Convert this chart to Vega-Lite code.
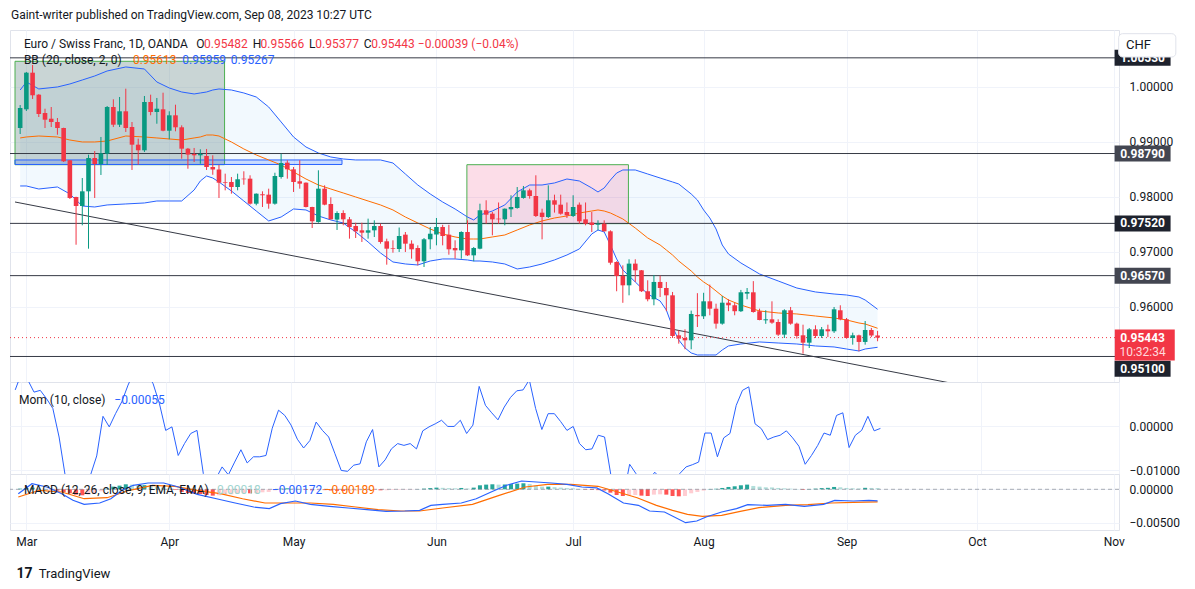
{
  "$schema": "https://vega.github.io/schema/vega-lite/v6.json",
  "background": "#ffffff",
  "padding": {"left": 9, "top": 8, "right": 0, "bottom": 0},
  "title": {"text": "Gaint-writer published on TradingView.com, Sep 08, 2023 10:27 UTC", "anchor": "start", "frame": "group", "fontSize": 12, "fontWeight": "normal", "font": "Roboto", "color": "#131722", "offset": 8, "dx": 1},
  "spacing": 0,
  "bounds": "flush",
  "config": {
    "font": "Roboto",
    "view": {"stroke": "#e0e3eb"},
    "axis": {"labelFont": "Roboto", "labelFontSize": 12, "labelColor": "#131722", "gridColor": "#f0f3fa", "ticks": false, "domain": false},
    "text": {"font": "Roboto", "fontSize": 12}
  },
  "datasets": {
    "ohlc": [
      {"i":-1,"o":0.99254,"h":0.99672,"l":0.99145,"c":0.99618},
      {"i":0,"o":0.99594,"h":1.00273,"l":0.99563,"c":1.00260},
      {"i":1,"o":1.00260,"h":1.00400,"l":0.99782,"c":0.99849},
      {"i":2,"o":0.99860,"h":0.99870,"l":0.99454,"c":0.99509},
      {"i":3,"o":0.99527,"h":0.99605,"l":0.99254,"c":0.99405},
      {"i":4,"o":0.99423,"h":0.99636,"l":0.99272,"c":0.99363},
      {"i":5,"o":0.99363,"h":0.99436,"l":0.99132,"c":0.99254},
      {"i":6,"o":0.99254,"h":0.99260,"l":0.98636,"c":0.98649},
      {"i":7,"o":0.98667,"h":0.98672,"l":0.97963,"c":0.97982},
      {"i":8,"o":0.98000,"h":0.98005,"l":0.97132,"c":0.97836},
      {"i":9,"o":0.97836,"h":0.98345,"l":0.97485,"c":0.98103},
      {"i":10,"o":0.98103,"h":0.98769,"l":0.97060,"c":0.98709},
      {"i":11,"o":0.98709,"h":0.98836,"l":0.97982,"c":0.98600},
      {"i":12,"o":0.98600,"h":0.99091,"l":0.98400,"c":0.98794},
      {"i":13,"o":0.98787,"h":0.99654,"l":0.98582,"c":0.99636},
      {"i":14,"o":0.99636,"h":0.99776,"l":0.99272,"c":0.99314},
      {"i":15,"o":0.99314,"h":0.99818,"l":0.99272,"c":0.99558},
      {"i":16,"o":0.99558,"h":0.99969,"l":0.99182,"c":0.99254},
      {"i":17,"o":0.99272,"h":0.99363,"l":0.98491,"c":0.98951},
      {"i":18,"o":0.98951,"h":0.99060,"l":0.98587,"c":0.98849},
      {"i":19,"o":0.98849,"h":0.99836,"l":0.98818,"c":0.99727},
      {"i":20,"o":0.99727,"h":0.99860,"l":0.99485,"c":0.99545},
      {"i":21,"o":0.99545,"h":0.99800,"l":0.99332,"c":0.99605},
      {"i":22,"o":0.99594,"h":0.99896,"l":0.99194,"c":0.99205},
      {"i":23,"o":0.99205,"h":0.99558,"l":0.99049,"c":0.99485},
      {"i":24,"o":0.99485,"h":0.99678,"l":0.99194,"c":0.99267},
      {"i":25,"o":0.99267,"h":0.99303,"l":0.98696,"c":0.98878},
      {"i":26,"o":0.98878,"h":0.98891,"l":0.98514,"c":0.98771},
      {"i":27,"o":0.98782,"h":0.98891,"l":0.98636,"c":0.98758},
      {"i":28,"o":0.98758,"h":0.98867,"l":0.98605,"c":0.98782},
      {"i":29,"o":0.98745,"h":0.98873,"l":0.98491,"c":0.98545},
      {"i":30,"o":0.98545,"h":0.98758,"l":0.98404,"c":0.98500},
      {"i":31,"o":0.98500,"h":0.98586,"l":0.97982,"c":0.98260},
      {"i":32,"o":0.98272,"h":0.98424,"l":0.98121,"c":0.98260},
      {"i":33,"o":0.98272,"h":0.98363,"l":0.98060,"c":0.98181},
      {"i":34,"o":0.98181,"h":0.98424,"l":0.98121,"c":0.98322},
      {"i":35,"o":0.98333,"h":0.98467,"l":0.98223,"c":0.98322},
      {"i":36,"o":0.98333,"h":0.98394,"l":0.97860,"c":0.97878},
      {"i":37,"o":0.97878,"h":0.98065,"l":0.97849,"c":0.98060},
      {"i":38,"o":0.98049,"h":0.98103,"l":0.97818,"c":0.98031},
      {"i":39,"o":0.98042,"h":0.98151,"l":0.97787,"c":0.97878},
      {"i":40,"o":0.97878,"h":0.98441,"l":0.97860,"c":0.98381},
      {"i":41,"o":0.98363,"h":0.98787,"l":0.98333,"c":0.98618},
      {"i":42,"o":0.98624,"h":0.98667,"l":0.98333,"c":0.98503},
      {"i":43,"o":0.98503,"h":0.98545,"l":0.98091,"c":0.98272},
      {"i":44,"o":0.98285,"h":0.98667,"l":0.98151,"c":0.98242},
      {"i":45,"o":0.98260,"h":0.98265,"l":0.97810,"c":0.97818},
      {"i":46,"o":0.97818,"h":0.97822,"l":0.97436,"c":0.97558},
      {"i":47,"o":0.97545,"h":0.98485,"l":0.97532,"c":0.98151},
      {"i":48,"o":0.98151,"h":0.98212,"l":0.97849,"c":0.97860},
      {"i":49,"o":0.97872,"h":0.97994,"l":0.97590,"c":0.97594},
      {"i":50,"o":0.97589,"h":0.97740,"l":0.97400,"c":0.97709},
      {"i":51,"o":0.97709,"h":0.97758,"l":0.97485,"c":0.97594},
      {"i":52,"o":0.97594,"h":0.97636,"l":0.97242,"c":0.97454},
      {"i":53,"o":0.97472,"h":0.97532,"l":0.97254,"c":0.97376},
      {"i":54,"o":0.97394,"h":0.97532,"l":0.97182,"c":0.97351},
      {"i":55,"o":0.97351,"h":0.97606,"l":0.97242,"c":0.97394},
      {"i":56,"o":0.97394,"h":0.97576,"l":0.97272,"c":0.97472},
      {"i":57,"o":0.97472,"h":0.97514,"l":0.97151,"c":0.97182},
      {"i":58,"o":0.97194,"h":0.97242,"l":0.96769,"c":0.97060},
      {"i":59,"o":0.97072,"h":0.97212,"l":0.96987,"c":0.97060},
      {"i":60,"o":0.97054,"h":0.97445,"l":0.97000,"c":0.97291},
      {"i":61,"o":0.97315,"h":0.97363,"l":0.97000,"c":0.97151},
      {"i":62,"o":0.97151,"h":0.97212,"l":0.96878,"c":0.97049},
      {"i":63,"o":0.97072,"h":0.97121,"l":0.96757,"c":0.96831},
      {"i":64,"o":0.96831,"h":0.97254,"l":0.96727,"c":0.97231},
      {"i":65,"o":0.97231,"h":0.97454,"l":0.97049,"c":0.97332},
      {"i":66,"o":0.97318,"h":0.97618,"l":0.97121,"c":0.97454},
      {"i":67,"o":0.97454,"h":0.97494,"l":0.97121,"c":0.97291},
      {"i":68,"o":0.97315,"h":0.97494,"l":0.96951,"c":0.97049},
      {"i":69,"o":0.97072,"h":0.97212,"l":0.96878,"c":0.97030},
      {"i":70,"o":0.97030,"h":0.97376,"l":0.96878,"c":0.97363},
      {"i":71,"o":0.97363,"h":0.97576,"l":0.96927,"c":0.96939},
      {"i":72,"o":0.96939,"h":0.97091,"l":0.96831,"c":0.97072},
      {"i":73,"o":0.97060,"h":0.97878,"l":0.97049,"c":0.97758},
      {"i":74,"o":0.97758,"h":0.97940,"l":0.97514,"c":0.97678},
      {"i":75,"o":0.97696,"h":0.97727,"l":0.97303,"c":0.97594},
      {"i":76,"o":0.97606,"h":0.97900,"l":0.97514,"c":0.97594},
      {"i":77,"o":0.97594,"h":0.97792,"l":0.97485,"c":0.97787},
      {"i":78,"o":0.97776,"h":0.98031,"l":0.97636,"c":0.97818},
      {"i":79,"o":0.97800,"h":0.98181,"l":0.97787,"c":0.98000},
      {"i":80,"o":0.97982,"h":0.98200,"l":0.97969,"c":0.98121},
      {"i":81,"o":0.98121,"h":0.98151,"l":0.97969,"c":0.98018},
      {"i":82,"o":0.98018,"h":0.98394,"l":0.97636,"c":0.97654},
      {"i":83,"o":0.97715,"h":0.97787,"l":0.97230,"c":0.97636},
      {"i":84,"o":0.97636,"h":0.98212,"l":0.97618,"c":0.97940},
      {"i":85,"o":0.97940,"h":0.98042,"l":0.97716,"c":0.97860},
      {"i":86,"o":0.97860,"h":0.98042,"l":0.97678,"c":0.97696},
      {"i":87,"o":0.97727,"h":0.97900,"l":0.97618,"c":0.97667},
      {"i":88,"o":0.97654,"h":0.98031,"l":0.97636,"c":0.97818},
      {"i":89,"o":0.97860,"h":0.97900,"l":0.97514,"c":0.97558},
      {"i":90,"o":0.97594,"h":0.97900,"l":0.97485,"c":0.97514},
      {"i":91,"o":0.97536,"h":0.97727,"l":0.97363,"c":0.97491},
      {"i":92,"o":0.97496,"h":0.97576,"l":0.97394,"c":0.97514},
      {"i":93,"o":0.97514,"h":0.97576,"l":0.97370,"c":0.97376},
      {"i":94,"o":0.97376,"h":0.97394,"l":0.96769,"c":0.96805},
      {"i":95,"o":0.96818,"h":0.96831,"l":0.96286,"c":0.96563},
      {"i":96,"o":0.96563,"h":0.96757,"l":0.96076,"c":0.96394},
      {"i":97,"o":0.96394,"h":0.96867,"l":0.96212,"c":0.96788},
      {"i":98,"o":0.96788,"h":0.96867,"l":0.96455,"c":0.96667},
      {"i":99,"o":0.96667,"h":0.96672,"l":0.96273,"c":0.96286},
      {"i":100,"o":0.96286,"h":0.96485,"l":0.96103,"c":0.96140},
      {"i":101,"o":0.96140,"h":0.96582,"l":0.96031,"c":0.96455},
      {"i":102,"o":0.96455,"h":0.96570,"l":0.96182,"c":0.96345},
      {"i":103,"o":0.96345,"h":0.96455,"l":0.95924,"c":0.96212},
      {"i":104,"o":0.96212,"h":0.96273,"l":0.95436,"c":0.95473},
      {"i":105,"o":0.95485,"h":0.95576,"l":0.95333,"c":0.95424},
      {"i":106,"o":0.95436,"h":0.95594,"l":0.95231,"c":0.95394},
      {"i":107,"o":0.95394,"h":0.95934,"l":0.95231,"c":0.95873},
      {"i":108,"o":0.95855,"h":0.96251,"l":0.95636,"c":0.95831},
      {"i":109,"o":0.95831,"h":0.96258,"l":0.95782,"c":0.96103},
      {"i":110,"o":0.96103,"h":0.96406,"l":0.95849,"c":0.95969},
      {"i":111,"o":0.95969,"h":0.96060,"l":0.95606,"c":0.95697},
      {"i":112,"o":0.95697,"h":0.96200,"l":0.95678,"c":0.96078},
      {"i":113,"o":0.96078,"h":0.96140,"l":0.95924,"c":0.96031},
      {"i":114,"o":0.96031,"h":0.96078,"l":0.95849,"c":0.95923},
      {"i":115,"o":0.95923,"h":0.96310,"l":0.95909,"c":0.96267},
      {"i":116,"o":0.96242,"h":0.96345,"l":0.96140,"c":0.96273},
      {"i":117,"o":0.96267,"h":0.96470,"l":0.95897,"c":0.95909},
      {"i":118,"o":0.95923,"h":0.95969,"l":0.95758,"c":0.95763},
      {"i":119,"o":0.95758,"h":0.95940,"l":0.95694,"c":0.95776},
      {"i":120,"o":0.95776,"h":0.96103,"l":0.95694,"c":0.95715},
      {"i":121,"o":0.95727,"h":0.95776,"l":0.95473,"c":0.95497},
      {"i":122,"o":0.95497,"h":0.95958,"l":0.95436,"c":0.95940},
      {"i":123,"o":0.95940,"h":0.96000,"l":0.95678,"c":0.95697},
      {"i":124,"o":0.95697,"h":0.95715,"l":0.95424,"c":0.95473},
      {"i":125,"o":0.95485,"h":0.95678,"l":0.95151,"c":0.95351},
      {"i":126,"o":0.95351,"h":0.95618,"l":0.95254,"c":0.95594},
      {"i":127,"o":0.95594,"h":0.95667,"l":0.95436,"c":0.95473},
      {"i":128,"o":0.95473,"h":0.95636,"l":0.95436,"c":0.95594},
      {"i":129,"o":0.95594,"h":0.95678,"l":0.95455,"c":0.95558},
      {"i":130,"o":0.95558,"h":0.96000,"l":0.95528,"c":0.95958},
      {"i":131,"o":0.95940,"h":0.96031,"l":0.95758,"c":0.95776},
      {"i":132,"o":0.95776,"h":0.95800,"l":0.95424,"c":0.95436},
      {"i":133,"o":0.95436,"h":0.95533,"l":0.95315,"c":0.95485},
      {"i":134,"o":0.95485,"h":0.95497,"l":0.95194,"c":0.95364},
      {"i":135,"o":0.95364,"h":0.95745,"l":0.95315,"c":0.95582},
      {"i":136,"o":0.95582,"h":0.95618,"l":0.95455,"c":0.95482},
      {"i":137,"o":0.95482,"h":0.95566,"l":0.95377,"c":0.95443}
    ],
    "bb": [
      {"i":-1,"upper":0.99945,"basis":0.99073,"lower":0.98200},
      {"i":0,"upper":1.00091,"basis":0.99091,"lower":0.98200},
      {"i":2,"upper":0.99964,"basis":0.99109,"lower":0.98145},
      {"i":5,"upper":1.00000,"basis":0.99091,"lower":0.98182},
      {"i":7,"upper":1.00055,"basis":0.99036,"lower":0.98055},
      {"i":9,"upper":1.00127,"basis":0.99000,"lower":0.97836},
      {"i":11,"upper":1.00200,"basis":0.99000,"lower":0.97818},
      {"i":13,"upper":1.00291,"basis":0.99018,"lower":0.97855},
      {"i":16,"upper":1.00364,"basis":0.99109,"lower":0.97873},
      {"i":19,"upper":1.00327,"basis":0.99091,"lower":0.97891},
      {"i":21,"upper":1.00091,"basis":0.99073,"lower":0.97927},
      {"i":23,"upper":0.99982,"basis":0.99055,"lower":0.97927},
      {"i":25,"upper":0.99909,"basis":0.99036,"lower":0.97927},
      {"i":27,"upper":0.99873,"basis":0.99073,"lower":0.98127},
      {"i":28,"upper":0.99891,"basis":0.99091,"lower":0.98291},
      {"i":29,"upper":0.99909,"basis":0.99127,"lower":0.98382},
      {"i":30,"upper":0.99945,"basis":0.99127,"lower":0.98345},
      {"i":31,"upper":0.99964,"basis":0.99109,"lower":0.98273},
      {"i":33,"upper":0.99945,"basis":0.99000,"lower":0.98109},
      {"i":35,"upper":0.99891,"basis":0.98873,"lower":0.97927},
      {"i":37,"upper":0.99818,"basis":0.98764,"lower":0.97745},
      {"i":39,"upper":0.99636,"basis":0.98673,"lower":0.97564},
      {"i":41,"upper":0.99364,"basis":0.98582,"lower":0.97636},
      {"i":43,"upper":0.99091,"basis":0.98455,"lower":0.97782},
      {"i":45,"upper":0.98909,"basis":0.98327,"lower":0.97764},
      {"i":47,"upper":0.98800,"basis":0.98218,"lower":0.97655},
      {"i":49,"upper":0.98727,"basis":0.98145,"lower":0.97582},
      {"i":51,"upper":0.98691,"basis":0.98073,"lower":0.97527},
      {"i":53,"upper":0.98673,"basis":0.98000,"lower":0.97364},
      {"i":55,"upper":0.98673,"basis":0.97927,"lower":0.97182},
      {"i":57,"upper":0.98673,"basis":0.97855,"lower":0.96982},
      {"i":59,"upper":0.98618,"basis":0.97764,"lower":0.96818},
      {"i":61,"upper":0.98418,"basis":0.97636,"lower":0.96782},
      {"i":63,"upper":0.98218,"basis":0.97527,"lower":0.96764},
      {"i":65,"upper":0.98055,"basis":0.97418,"lower":0.96836},
      {"i":67,"upper":0.97909,"basis":0.97327,"lower":0.96873},
      {"i":69,"upper":0.97782,"basis":0.97273,"lower":0.96873},
      {"i":71,"upper":0.97636,"basis":0.97236,"lower":0.96855},
      {"i":72,"upper":0.97582,"basis":0.97236,"lower":0.96836},
      {"i":73,"upper":0.97673,"basis":0.97236,"lower":0.96836},
      {"i":75,"upper":0.97745,"basis":0.97273,"lower":0.96818},
      {"i":77,"upper":0.97855,"basis":0.97309,"lower":0.96782},
      {"i":79,"upper":0.98091,"basis":0.97400,"lower":0.96691},
      {"i":81,"upper":0.98218,"basis":0.97491,"lower":0.96727},
      {"i":83,"upper":0.98218,"basis":0.97564,"lower":0.96782},
      {"i":85,"upper":0.98255,"basis":0.97618,"lower":0.96855},
      {"i":87,"upper":0.98327,"basis":0.97655,"lower":0.96945},
      {"i":89,"upper":0.98291,"basis":0.97709,"lower":0.97055},
      {"i":91,"upper":0.98164,"basis":0.97745,"lower":0.97327},
      {"i":92,"upper":0.98091,"basis":0.97764,"lower":0.97400},
      {"i":93,"upper":0.98164,"basis":0.97745,"lower":0.97364},
      {"i":94,"upper":0.98309,"basis":0.97709,"lower":0.97127},
      {"i":95,"upper":0.98436,"basis":0.97655,"lower":0.96873},
      {"i":96,"upper":0.98491,"basis":0.97600,"lower":0.96673},
      {"i":98,"upper":0.98491,"basis":0.97436,"lower":0.96455},
      {"i":100,"upper":0.98418,"basis":0.97255,"lower":0.96236},
      {"i":102,"upper":0.98345,"basis":0.97127,"lower":0.96109},
      {"i":103,"upper":0.98309,"basis":0.97036,"lower":0.95945},
      {"i":104,"upper":0.98273,"basis":0.96945,"lower":0.95636},
      {"i":105,"upper":0.98236,"basis":0.96836,"lower":0.95400},
      {"i":106,"upper":0.98145,"basis":0.96745,"lower":0.95255},
      {"i":107,"upper":0.98055,"basis":0.96655,"lower":0.95164},
      {"i":108,"upper":0.97945,"basis":0.96545,"lower":0.95127},
      {"i":109,"upper":0.97764,"basis":0.96455,"lower":0.95127},
      {"i":110,"upper":0.97618,"basis":0.96382,"lower":0.95127},
      {"i":111,"upper":0.97418,"basis":0.96291,"lower":0.95127},
      {"i":112,"upper":0.97127,"basis":0.96200,"lower":0.95218},
      {"i":113,"upper":0.96964,"basis":0.96127,"lower":0.95291},
      {"i":115,"upper":0.96800,"basis":0.96036,"lower":0.95327},
      {"i":118,"upper":0.96600,"basis":0.95927,"lower":0.95364},
      {"i":121,"upper":0.96473,"basis":0.95891,"lower":0.95345},
      {"i":124,"upper":0.96345,"basis":0.95873,"lower":0.95327},
      {"i":127,"upper":0.96273,"basis":0.95836,"lower":0.95291},
      {"i":130,"upper":0.96236,"basis":0.95800,"lower":0.95273},
      {"i":132,"upper":0.96218,"basis":0.95764,"lower":0.95236},
      {"i":134,"upper":0.96182,"basis":0.95709,"lower":0.95200},
      {"i":135,"upper":0.96127,"basis":0.95691,"lower":0.95236},
      {"i":137,"upper":0.95959,"basis":0.95613,"lower":0.95267}
    ],
    "levels": [
      {"p":1.0053,"label":"1.00530"},
      {"p":0.9879,"label":"0.98790"},
      {"p":0.9752,"label":"0.97520"},
      {"p":0.9657,"label":"0.96570"},
      {"p":0.951,"label":"0.95100"}
    ],
    "mom": [
      {"i":-1,"v":0.0082},{"i":0,"v":0.0120},{"i":1,"v":0.0105},{"i":2,"v":0.0077},{"i":3,"v":0.0081},{"i":4,"v":0.0062},{"i":5,"v":0.0040},{"i":6,"v":-0.0025},{"i":7,"v":-0.0115},{"i":8,"v":-0.0160},
      {"i":9,"v":-0.0175},{"i":10,"v":-0.0150},{"i":11,"v":-0.0112},{"i":12,"v":-0.0068},{"i":13,"v":0.0022},{"i":14,"v":-0.0002},{"i":15,"v":0.0028},{"i":16,"v":0.0055},{"i":17,"v":0.0093},{"i":18,"v":0.0125},
      {"i":19,"v":0.0140},{"i":20,"v":0.0120},{"i":21,"v":0.0096},{"i":22,"v":0.0051},{"i":23,"v":-0.0010},{"i":24,"v":-0.0002},{"i":25,"v":-0.0067},{"i":26,"v":-0.0040},{"i":27,"v":-0.0017},{"i":28,"v":-0.0010},
      {"i":29,"v":-0.0108},{"i":30,"v":-0.0130},{"i":31,"v":-0.0120},{"i":32,"v":-0.0093},{"i":33,"v":-0.0111},{"i":34,"v":-0.0082},{"i":35,"v":-0.0054},{"i":36,"v":-0.0084},{"i":37,"v":-0.0070},{"i":38,"v":-0.0070},
      {"i":39,"v":-0.0067},{"i":40,"v":-0.0005},{"i":41,"v":0.0036},{"i":42,"v":0.0024},{"i":43,"v":0.0002},{"i":44,"v":-0.0030},{"i":45,"v":-0.0050},{"i":46,"v":-0.0033},{"i":47,"v":0.0009},{"i":48,"v":-0.0010},
      {"i":49,"v":-0.0025},{"i":50,"v":-0.0063},{"i":51,"v":-0.0101},{"i":52,"v":-0.0103},{"i":53,"v":-0.0089},{"i":54,"v":-0.0086},{"i":55,"v":-0.0036},{"i":56,"v":-0.0008},{"i":57,"v":-0.0093},{"i":58,"v":-0.0077},
      {"i":59,"v":-0.0052},{"i":60,"v":-0.0040},{"i":61,"v":-0.0044},{"i":62,"v":-0.0040},{"i":63,"v":-0.0052},{"i":64,"v":-0.0011},{"i":65,"v":-0.0002},{"i":66,"v":0.0005},{"i":67,"v":0.0013},{"i":68,"v":-0.0001},
      {"i":69,"v":-0.0001},{"i":70,"v":0.0013},{"i":71,"v":-0.0017},{"i":72,"v":0.0002},{"i":73,"v":0.0090},{"i":74,"v":0.0047},{"i":75,"v":0.0030},{"i":76,"v":0.0014},{"i":77,"v":0.0043},{"i":78,"v":0.0065},
      {"i":79,"v":0.0080},{"i":80,"v":0.0082},{"i":81,"v":0.0105},{"i":82,"v":0.0040},{"i":83,"v":-0.0008},{"i":84,"v":0.0028},{"i":85,"v":0.0028},{"i":86,"v":0.0010},{"i":87,"v":-0.0010},{"i":88,"v":-0.0001},
      {"i":89,"v":-0.0040},{"i":90,"v":-0.0054},{"i":91,"v":-0.0052},{"i":92,"v":-0.0021},{"i":93,"v":-0.0025},{"i":94,"v":-0.0111},{"i":95,"v":-0.0150},{"i":96,"v":-0.0160},{"i":97,"v":-0.0087},{"i":98,"v":-0.0108},
      {"i":99,"v":-0.0125},{"i":100,"v":-0.0125},{"i":101,"v":-0.0105},{"i":102,"v":-0.0120},{"i":103,"v":-0.0130},{"i":104,"v":-0.0125},{"i":105,"v":-0.0108},{"i":106,"v":-0.0093},{"i":107,"v":-0.0088},{"i":108,"v":-0.0082},
      {"i":109,"v":-0.0016},{"i":110,"v":-0.0016},{"i":111,"v":-0.0070},{"i":112,"v":-0.0027},{"i":113,"v":-0.0017},{"i":114,"v":0.0047},{"i":115,"v":0.0081},{"i":116,"v":0.0089},{"i":117,"v":0.0005},{"i":118,"v":-0.0006},
      {"i":119,"v":-0.0031},{"i":120,"v":-0.0025},{"i":121,"v":-0.0021},{"i":122,"v":-0.0011},{"i":123,"v":-0.0027},{"i":124,"v":-0.0046},{"i":125,"v":-0.0087},{"i":126,"v":-0.0067},{"i":127,"v":-0.0044},{"i":128,"v":-0.0016},
      {"i":129,"v":-0.0021},{"i":130,"v":0.0024},{"i":131,"v":0.0030},{"i":132,"v":-0.0049},{"i":133,"v":-0.0021},{"i":134,"v":-0.0010},{"i":135,"v":0.0022},{"i":136,"v":-0.0011},{"i":137,"v":-0.00055}
    ],
    "macd": [
      {"i":-1.3,"v":-0.00066},{"i":0.9,"v":0.00084},{"i":3.3,"v":0.00034},{"i":5.7,"v":-0.00066},{"i":7.5,"v":-0.00165},{"i":9.3,"v":-0.00225},{"i":11.8,"v":-0.00205},{"i":13.6,"v":-0.00141},{"i":15.4,"v":-0.00015},{"i":17.2,"v":0.0006},
      {"i":19.6,"v":0.00094},{"i":22.1,"v":0.00094},{"i":24.5,"v":0.00034},{"i":27.5,"v":-0.00075},{"i":30.6,"v":-0.00141},{"i":33.6,"v":-0.00205},{"i":36.6,"v":-0.00265},{"i":39.1,"v":-0.0029},{"i":40.9,"v":-0.00215},{"i":43.3,"v":-0.00175},
      {"i":45.7,"v":-0.00225},{"i":48.8,"v":-0.00255},{"i":51.8,"v":-0.0028},{"i":54.8,"v":-0.00305},{"i":57.9,"v":-0.0033},{"i":60.9,"v":-0.00325},{"i":63.3,"v":-0.00315},{"i":65.1,"v":-0.0024},{"i":67,"v":-0.00225},{"i":70,"v":-0.00205},
      {"i":72.4,"v":-0.00141},{"i":74.8,"v":-0.0004},{"i":77.3,"v":0.0006},{"i":79.7,"v":0.00124},{"i":82.1,"v":0.00109},{"i":84.5,"v":0.00094},{"i":87,"v":0.00075},{"i":89.4,"v":0.00034},{"i":91.8,"v":0.0002},{"i":93.6,"v":-0.00066},
      {"i":96.1,"v":-0.00205},{"i":98.5,"v":-0.0024},{"i":100.3,"v":-0.00325},{"i":102.7,"v":-0.0034},{"i":106.1,"v":-0.005},{"i":107.9,"v":-0.00475},{"i":109.4,"v":-0.00415},{"i":111.9,"v":-0.0034},{"i":114.3,"v":-0.0029},{"i":116.1,"v":-0.0023},
      {"i":119.2,"v":-0.0024},{"i":122.2,"v":-0.00225},{"i":125.2,"v":-0.00255},{"i":128.3,"v":-0.00225},{"i":130.1,"v":-0.00165},{"i":133.1,"v":-0.00175},{"i":135.6,"v":-0.00165},{"i":137,"v":-0.00172}
    ],
    "signal": [
      {"i":-1.3,"v":-0.00115},{"i":2.1,"v":-0.00015},{"i":5.7,"v":-0.0004},{"i":9.3,"v":-0.00141},{"i":13,"v":-0.00126},{"i":16.6,"v":-0.00015},{"i":20.3,"v":0.0006},{"i":23.9,"v":0.00045},{"i":27.5,"v":-0.00015},{"i":31.2,"v":-0.00066},
      {"i":34.8,"v":-0.00141},{"i":38.4,"v":-0.00205},{"i":42.1,"v":-0.00205},{"i":45.7,"v":-0.00205},{"i":49.4,"v":-0.00225},{"i":53,"v":-0.00265},{"i":56.6,"v":-0.00305},{"i":60.3,"v":-0.00325},{"i":63.3,"v":-0.00325},{"i":67,"v":-0.0028},
      {"i":71.8,"v":-0.00225},{"i":76.1,"v":-0.0009},{"i":80.3,"v":0.00034},{"i":83.9,"v":0.00075},{"i":87.6,"v":0.00075},{"i":92,"v":0.00045},{"i":95.2,"v":-0.0004},{"i":98.3,"v":-0.00126},{"i":101.4,"v":-0.0024},{"i":104,"v":-0.00315},
      {"i":106.4,"v":-0.00375},{"i":108.8,"v":-0.00405},{"i":111.9,"v":-0.0039},{"i":114.9,"v":-0.0033},{"i":117.9,"v":-0.00275},{"i":122.2,"v":-0.0024},{"i":125.8,"v":-0.0023},{"i":129.5,"v":-0.00205},{"i":133.1,"v":-0.00195},{"i":137,"v":-0.00189}
    ],
    "hist": [
      {"i":-1,"v":0.0001},{"i":0,"v":0.0002},{"i":1,"v":0.00025},{"i":2,"v":0.00018},{"i":3,"v":0.00005},{"i":4,"v":-0.00005},{"i":5,"v":-0.0002},{"i":6,"v":-0.0004},{"i":7,"v":-0.0006},{"i":8,"v":-0.0008},
      {"i":9,"v":-0.0009},{"i":10,"v":-0.0008},{"i":11,"v":-0.0006},{"i":12,"v":-0.0003},{"i":13,"v":0.0001},{"i":14,"v":0.0004},{"i":15,"v":0.00055},{"i":16,"v":0.00075},{"i":17,"v":0.0007},{"i":18,"v":0.0006},
      {"i":19,"v":0.00062},{"i":20,"v":0.0005},{"i":21,"v":0.0004},{"i":22,"v":0.00028},{"i":23,"v":0.00012},{"i":24,"v":-0.0001},{"i":25,"v":-0.0004},{"i":26,"v":-0.00055},{"i":27,"v":-0.00065},{"i":28,"v":-0.0007},
      {"i":29,"v":-0.00085},{"i":30,"v":-0.00095},{"i":31,"v":-0.0009},{"i":32,"v":-0.0008},{"i":33,"v":-0.00075},{"i":34,"v":-0.00065},{"i":35,"v":-0.00055},{"i":36,"v":-0.0006},{"i":37,"v":-0.00055},{"i":38,"v":-0.00045},
      {"i":39,"v":-0.0004},{"i":40,"v":-0.00015},{"i":41,"v":0.0001},{"i":42,"v":0.00015},{"i":43,"v":0.0001},{"i":44,"v":0.00002},{"i":45,"v":-0.0001},{"i":46,"v":-0.00015},{"i":47,"v":-0.00008},{"i":48,"v":-0.00012},
      {"i":49,"v":-0.00018},{"i":50,"v":-0.00022},{"i":51,"v":-0.00025},{"i":52,"v":-0.00022},{"i":53,"v":-0.0002},{"i":54,"v":-0.00015},{"i":55,"v":-0.00012},{"i":56,"v":-0.0001},{"i":57,"v":-0.00015},{"i":58,"v":-0.00014},
      {"i":59,"v":-0.0001},{"i":60,"v":-0.00008},{"i":61,"v":-0.00006},{"i":62,"v":-0.00005},{"i":63,"v":0.00002},{"i":64,"v":0.0001},{"i":65,"v":0.00018},{"i":66,"v":0.00025},{"i":67,"v":0.00022},{"i":68,"v":0.00018},
      {"i":69,"v":0.00015},{"i":70,"v":0.0002},{"i":71,"v":0.00012},{"i":72,"v":0.00025},{"i":73,"v":0.0006},{"i":74,"v":0.0007},{"i":75,"v":0.00075},{"i":76,"v":0.0007},{"i":77,"v":0.00072},{"i":78,"v":0.00078},
      {"i":79,"v":0.00085},{"i":80,"v":0.0009},{"i":81,"v":0.0008},{"i":82,"v":0.00055},{"i":83,"v":0.0004},{"i":84,"v":0.0004},{"i":85,"v":0.00032},{"i":86,"v":0.00025},{"i":87,"v":0.00018},{"i":88,"v":0.00015},
      {"i":89,"v":0.00005},{"i":90,"v":-0.00005},{"i":91,"v":-0.0001},{"i":92,"v":-0.00012},{"i":93,"v":-0.00018},{"i":94,"v":-0.0005},{"i":95,"v":-0.00085},{"i":96,"v":-0.001},{"i":97,"v":-0.0009},{"i":98,"v":-0.00085},
      {"i":99,"v":-0.00095},{"i":100,"v":-0.001},{"i":101,"v":-0.0008},{"i":102,"v":-0.00075},{"i":103,"v":-0.0008},{"i":104,"v":-0.001},{"i":105,"v":-0.00105},{"i":106,"v":-0.001},{"i":107,"v":-0.0006},{"i":108,"v":-0.0004},
      {"i":109,"v":-0.0002},{"i":110,"v":0.00005},{"i":111,"v":0.00008},{"i":112,"v":0.0002},{"i":113,"v":0.00035},{"i":114,"v":0.00045},{"i":115,"v":0.0006},{"i":116,"v":0.0007},{"i":117,"v":0.0005},{"i":118,"v":0.0004},
      {"i":119,"v":0.0003},{"i":120,"v":0.00028},{"i":121,"v":0.0002},{"i":122,"v":0.00015},{"i":123,"v":0.0001},{"i":124,"v":0.00005},{"i":125,"v":-0.00008},{"i":126,"v":0.00005},{"i":127,"v":0.0001},{"i":128,"v":0.00018},
      {"i":129,"v":0.00022},{"i":130,"v":0.00035},{"i":131,"v":0.0003},{"i":132,"v":0.0002},{"i":133,"v":0.00015},{"i":134,"v":0.00012},{"i":135,"v":0.00022},{"i":136,"v":0.0002},{"i":137,"v":0.00018}
    ]
  },
  "vconcat": [
    {
      "width": 1109,
      "height": 352,
      "layer": [
        {
          "data": {"name": "bb"},
          "mark": {"type": "area", "color": "#2196f3", "opacity": 0.06},
          "encoding": {
            "x": {"field": "i", "type": "quantitative", "title": null, "scale": {"domain": [-1.83, 175.05], "nice": false, "zero": false}, "axis": {"values": [0, 23, 43, 66, 88, 109, 132, 153, 175], "labels": false, "grid": true}},
            "y": {"field": "upper", "type": "quantitative", "title": null, "scale": {"domain": [0.94636, 1.01036], "nice": false, "zero": false}, "axis": {"orient": "right", "values": [0.96, 0.97, 0.98, 0.99, 1.0], "format": ".5f", "labelPadding": 10, "grid": true}},
            "y2": {"field": "lower"}
          }
        },
        {
          "data": {"values": [{}]},
          "mark": {"type": "rect", "fill": "#7f9c9c", "fillOpacity": 0.42, "stroke": "#4caf50", "strokeWidth": 1, "clip": true},
          "encoding": {"x": {"datum": -1.83}, "x2": {"datum": 31.9}, "y": {"datum": 1.00467}, "y2": {"datum": 0.98587}}
        },
        {
          "data": {"values": [{}]},
          "mark": {"type": "rect", "fill": "#2962ff", "fillOpacity": 0.2, "stroke": "#2962ff", "strokeWidth": 1, "clip": true},
          "encoding": {"x": {"datum": -1.83}, "x2": {"datum": 50.8}, "y": {"datum": 0.98673}, "y2": {"datum": 0.98591}}
        },
        {
          "data": {"values": [{}]},
          "mark": {"type": "rect", "fill": "#e91e63", "fillOpacity": 0.15, "stroke": "#4caf50", "strokeWidth": 1},
          "encoding": {"x": {"datum": 70.9}, "x2": {"datum": 96.9}, "y": {"datum": 0.98587}, "y2": {"datum": 0.97515}}
        },
        {
          "data": {"name": "bb"},
          "mark": {"type": "line", "color": "#2962ff", "strokeWidth": 1},
          "encoding": {"x": {"field": "i", "type": "quantitative", "title": null}, "y": {"field": "upper", "type": "quantitative", "title": null}}
        },
        {
          "data": {"name": "bb"},
          "mark": {"type": "line", "color": "#2962ff", "strokeWidth": 1},
          "encoding": {"x": {"field": "i", "type": "quantitative", "title": null}, "y": {"field": "lower", "type": "quantitative", "title": null}}
        },
        {
          "data": {"name": "bb"},
          "mark": {"type": "line", "color": "#ff6d00", "strokeWidth": 1},
          "encoding": {"x": {"field": "i", "type": "quantitative", "title": null}, "y": {"field": "basis", "type": "quantitative", "title": null}}
        },
        {
          "data": {"name": "levels"},
          "mark": {"type": "rule", "color": "#363a45", "strokeWidth": 1},
          "encoding": {"y": {"field": "p", "type": "quantitative", "title": null}}
        },
        {
          "data": {"values": [{}]},
          "mark": {"type": "rule", "color": "#363a45", "strokeWidth": 1, "clip": true},
          "encoding": {"x": {"datum": -1.83}, "x2": {"datum": 148.7}, "y": {"datum": 0.97909}, "y2": {"datum": 0.94618}}
        },
        {
          "data": {"values": [{}]},
          "mark": {"type": "rule", "color": "#f23645", "strokeWidth": 1, "strokeDash": [1, 3]},
          "encoding": {"y": {"datum": 0.95443}}
        },
        {
          "data": {"name": "ohlc"},
          "mark": {"type": "rule", "strokeWidth": 1},
          "encoding": {
            "x": {"field": "i", "type": "quantitative", "title": null},
            "y": {"field": "l", "type": "quantitative", "title": null},
            "y2": {"field": "h"},
            "color": {"condition": {"test": "datum.c >= datum.o", "value": "#089981"}, "value": "#f23645"}
          }
        },
        {
          "data": {"name": "ohlc"},
          "mark": {"type": "bar", "width": 4.6},
          "encoding": {
            "x": {"field": "i", "type": "quantitative", "title": null},
            "y": {"field": "o", "type": "quantitative", "title": null},
            "y2": {"field": "c"},
            "color": {"condition": {"test": "datum.c >= datum.o", "value": "#089981"}, "value": "#f23645"}
          }
        },
        {
          "data": {"values": [{}]},
          "mark": {"type": "text", "align": "left", "baseline": "middle", "color": "#131722", "text": "Euro / Swiss Franc, 1D, OANDA"},
          "encoding": {"x": {"datum": -0.4}, "y": {"datum": 1.00782}}
        },
        {
          "data": {"values": [{}]},
          "mark": {"type": "text", "align": "left", "baseline": "middle", "color": "#131722", "text": "O"},
          "encoding": {"x": {"datum": 27.35}, "y": {"datum": 1.00782}}
        },
        {
          "data": {"values": [{}]},
          "mark": {"type": "text", "align": "left", "baseline": "middle", "color": "#f23645", "text": "0.95482"},
          "encoding": {"x": {"datum": 28.6}, "y": {"datum": 1.00782}}
        },
        {
          "data": {"values": [{}]},
          "mark": {"type": "text", "align": "left", "baseline": "middle", "color": "#131722", "text": "H"},
          "encoding": {"x": {"datum": 36.45}, "y": {"datum": 1.00782}}
        },
        {
          "data": {"values": [{}]},
          "mark": {"type": "text", "align": "left", "baseline": "middle", "color": "#f23645", "text": "0.95566"},
          "encoding": {"x": {"datum": 37.7}, "y": {"datum": 1.00782}}
        },
        {
          "data": {"values": [{}]},
          "mark": {"type": "text", "align": "left", "baseline": "middle", "color": "#131722", "text": "L"},
          "encoding": {"x": {"datum": 45.5}, "y": {"datum": 1.00782}}
        },
        {
          "data": {"values": [{}]},
          "mark": {"type": "text", "align": "left", "baseline": "middle", "color": "#f23645", "text": "0.95377"},
          "encoding": {"x": {"datum": 46.5}, "y": {"datum": 1.00782}}
        },
        {
          "data": {"values": [{}]},
          "mark": {"type": "text", "align": "left", "baseline": "middle", "color": "#131722", "text": "C"},
          "encoding": {"x": {"datum": 54.3}, "y": {"datum": 1.00782}}
        },
        {
          "data": {"values": [{}]},
          "mark": {"type": "text", "align": "left", "baseline": "middle", "color": "#f23645", "text": "0.95443 −0.00039 (−0.04%)"},
          "encoding": {"x": {"datum": 55.5}, "y": {"datum": 1.00782}}
        },
        {
          "data": {"values": [{}]},
          "mark": {"type": "text", "align": "left", "baseline": "middle", "color": "#131722", "text": "BB (20, close, 2, 0)"},
          "encoding": {"x": {"datum": -0.4}, "y": {"datum": 1.00491}}
        },
        {
          "data": {"values": [{}]},
          "mark": {"type": "text", "align": "left", "baseline": "middle", "color": "#ff6d00", "text": "0.95613"},
          "encoding": {"x": {"datum": 17.15}, "y": {"datum": 1.00491}}
        },
        {
          "data": {"values": [{}]},
          "mark": {"type": "text", "align": "left", "baseline": "middle", "color": "#2962ff", "text": "0.95959"},
          "encoding": {"x": {"datum": 25.1}, "y": {"datum": 1.00491}}
        },
        {
          "data": {"values": [{}]},
          "mark": {"type": "text", "align": "left", "baseline": "middle", "color": "#2962ff", "text": "0.95267"},
          "encoding": {"x": {"datum": 32.9}, "y": {"datum": 1.00491}}
        },
        {
          "data": {"name": "levels"},
          "transform": [{"filter": "datum.p > 0.952"}],
          "mark": {"type": "tick", "orient": "horizontal", "size": 56, "thickness": 16, "opacity": 1},
          "encoding": {
            "x": {"datum": 179.65},
            "y": {"field": "p", "type": "quantitative", "title": null},
            "color": {"field": "label", "type": "nominal", "legend": null, "scale": {"domain": ["1.00530", "0.98790", "0.97520", "0.96570"], "range": ["#1e222d", "#434651", "#1e222d", "#434651"]}}
          }
        },
        {
          "data": {"name": "levels"},
          "transform": [{"filter": "datum.p > 0.952"}],
          "mark": {"type": "text", "align": "center", "baseline": "middle", "color": "#ffffff", "fontWeight": "bold"},
          "encoding": {"x": {"datum": 179.65}, "y": {"field": "p", "type": "quantitative", "title": null}, "text": {"field": "label"}}
        },
        {
          "data": {"values": [{}]},
          "mark": {"type": "tick", "orient": "horizontal", "size": 56, "thickness": 16, "opacity": 1, "color": "#1e222d"},
          "encoding": {"x": {"datum": 179.65}, "y": {"datum": 0.94878}}
        },
        {
          "data": {"values": [{}]},
          "mark": {"type": "text", "align": "center", "baseline": "middle", "color": "#ffffff", "fontWeight": "bold", "text": "0.95100"},
          "encoding": {"x": {"datum": 179.65}, "y": {"datum": 0.94878}}
        },
        {
          "data": {"values": [{}]},
          "mark": {"type": "tick", "orient": "horizontal", "size": 60, "thickness": 31, "opacity": 1, "color": "#f23645"},
          "encoding": {"x": {"datum": 180.0}, "y": {"datum": 0.95309}}
        },
        {
          "data": {"values": [{}]},
          "mark": {"type": "text", "align": "center", "baseline": "middle", "color": "#ffffff", "fontWeight": "bold", "text": "0.95443"},
          "encoding": {"x": {"datum": 179.65}, "y": {"datum": 0.95444}}
        },
        {
          "data": {"values": [{}]},
          "mark": {"type": "text", "align": "center", "baseline": "middle", "color": "#ffd9dc", "text": "10:32:34"},
          "encoding": {"x": {"datum": 179.65}, "y": {"datum": 0.95182}}
        },
        {
          "data": {"values": [{}]},
          "mark": {"type": "rect", "fill": "#ffffff", "stroke": "#e0e3eb", "strokeWidth": 1, "cornerRadius": 4},
          "encoding": {"x": {"datum": 175.8}, "x2": {"datum": 185.0}, "y": {"datum": 1.00969}, "y2": {"datum": 1.00545}}
        },
        {
          "data": {"values": [{}]},
          "mark": {"type": "text", "align": "center", "baseline": "middle", "color": "#131722", "fontSize": 13, "text": "CHF"},
          "encoding": {"x": {"datum": 179.0}, "y": {"datum": 1.00764}}
        }
      ]
    },
    {
      "width": 1109,
      "height": 92,
      "layer": [
        {
          "data": {"name": "mom"},
          "mark": {"type": "line", "color": "#2962ff", "strokeWidth": 1, "clip": true},
          "encoding": {
            "x": {"field": "i", "type": "quantitative", "title": null, "scale": {"domain": [-1.83, 175.05], "nice": false, "zero": false}, "axis": {"values": [0, 23, 43, 66, 88, 109, 132, 153, 175], "labels": false, "grid": true}},
            "y": {"field": "v", "type": "quantitative", "title": null, "scale": {"domain": [-0.010909, 0.01], "nice": false, "zero": false}, "axis": {"orient": "right", "values": [0, -0.01], "format": ".5f", "labelExpr": "replace(datum.label, '-', '−')", "labelPadding": 10, "grid": true}}
          }
        },
        {
          "data": {"values": [{}]},
          "mark": {"type": "text", "align": "left", "baseline": "middle", "color": "#131722", "text": "Mom (10, close)"},
          "encoding": {"x": {"datum": -0.4}, "y": {"datum": 0.0059}}
        },
        {
          "data": {"values": [{}]},
          "mark": {"type": "text", "align": "left", "baseline": "middle", "color": "#2962ff", "text": "−0.00055"},
          "encoding": {"x": {"datum": 14.8}, "y": {"datum": 0.0059}}
        }
      ]
    },
    {
      "width": 1109,
      "height": 56,
      "layer": [
        {
          "data": {"name": "hist"},
          "transform": [{"window": [{"op": "lag", "field": "v", "as": "prev"}], "sort": [{"field": "i"}]}],
          "mark": {"type": "bar", "width": 4},
          "encoding": {
            "x": {"field": "i", "type": "quantitative", "title": null, "scale": {"domain": [-1.83, 175.05], "nice": false, "zero": false}, "axis": {"values": [0, 23, 43, 66, 88, 109, 132, 153, 175], "labelExpr": "datum.value == 0 ? 'Mar' : datum.value == 23 ? 'Apr' : datum.value == 43 ? 'May' : datum.value == 66 ? 'Jun' : datum.value == 88 ? 'Jul' : datum.value == 109 ? 'Aug' : datum.value == 132 ? 'Sep' : datum.value == 153 ? 'Oct' : 'Nov'", "labelFlush": false, "labelPadding": 6, "grid": true}},
            "y": {"field": "v", "type": "quantitative", "title": null, "scale": {"domain": [-0.006093, 0.00229], "nice": false, "zero": false}, "axis": {"orient": "right", "values": [0, -0.005], "format": ".5f", "labelExpr": "replace(datum.label, '-', '−')", "labelPadding": 10, "grid": true}},
            "y2": {"datum": 0},
            "color": {"condition": [{"test": "datum.v >= 0 && datum.v >= datum.prev", "value": "#26a69a"}, {"test": "datum.v >= 0", "value": "#b2dfdb"}, {"test": "datum.v < datum.prev", "value": "#ff5252"}], "value": "#ffcdd2"}
          }
        },
        {
          "data": {"values": [{}]},
          "mark": {"type": "rule", "color": "#787b86", "opacity": 0.6, "strokeDash": [4, 3]},
          "encoding": {"y": {"datum": 0}}
        },
        {
          "data": {"name": "signal"},
          "mark": {"type": "line", "color": "#ff6d00", "strokeWidth": 1.2, "clip": true},
          "encoding": {"x": {"field": "i", "type": "quantitative", "title": null}, "y": {"field": "v", "type": "quantitative", "title": null}}
        },
        {
          "data": {"name": "macd"},
          "mark": {"type": "line", "color": "#2962ff", "strokeWidth": 1.2, "clip": true},
          "encoding": {"x": {"field": "i", "type": "quantitative", "title": null}, "y": {"field": "v", "type": "quantitative", "title": null}}
        },
        {
          "data": {"values": [{}]},
          "mark": {"type": "text", "align": "left", "baseline": "middle", "color": "#131722", "text": "MACD (12, 26, close, 9, EMA, EMA)"},
          "encoding": {"x": {"datum": -0.4}, "y": {"datum": -0.00015}}
        },
        {
          "data": {"values": [{}]},
          "mark": {"type": "text", "align": "left", "baseline": "middle", "color": "#9fd5cf", "text": "0.00018"},
          "encoding": {"x": {"datum": 30.7}, "y": {"datum": -0.00015}}
        },
        {
          "data": {"values": [{}]},
          "mark": {"type": "text", "align": "left", "baseline": "middle", "color": "#2962ff", "text": "−0.00172"},
          "encoding": {"x": {"datum": 39.5}, "y": {"datum": -0.00015}}
        },
        {
          "data": {"values": [{}]},
          "mark": {"type": "text", "align": "left", "baseline": "middle", "color": "#ff6d00", "text": "−0.00189"},
          "encoding": {"x": {"datum": 48.0}, "y": {"datum": -0.00015}}
        },
        {
          "data": {"values": [{}]},
          "mark": {"type": "text", "align": "left", "baseline": "middle", "color": "#131722", "fontWeight": "bold", "fontSize": 14, "text": "17"},
          "encoding": {"x": {"datum": -1.6}, "y": {"datum": -0.01268}}
        },
        {
          "data": {"values": [{}]},
          "mark": {"type": "text", "align": "left", "baseline": "middle", "color": "#131722", "fontSize": 13, "text": "TradingView"},
          "encoding": {"x": {"datum": 2.0}, "y": {"datum": -0.01268}}
        }
      ]
    }
  ]
}
